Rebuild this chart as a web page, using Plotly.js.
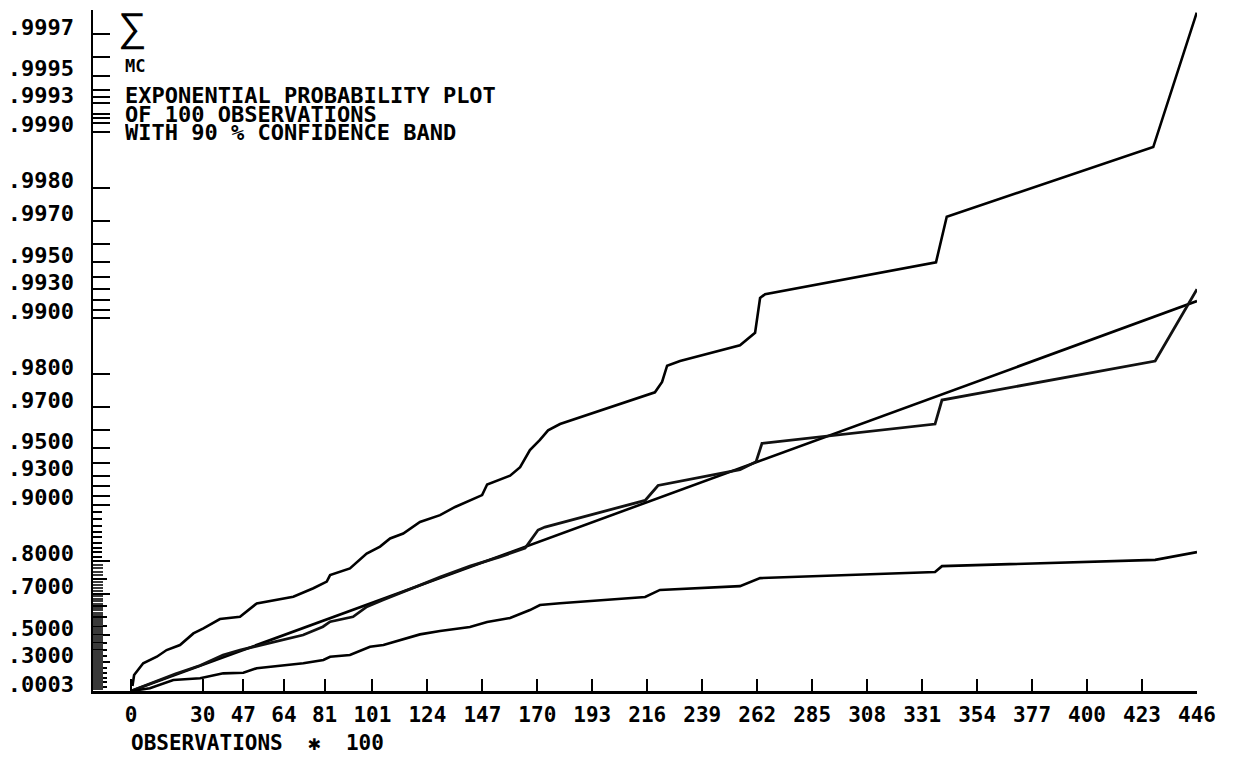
<!DOCTYPE html>
<html>
<head>
<meta charset="utf-8">
<script src="https://cdn.plot.ly/plotly-3.0.1.min.js"></script>
<style>
  html, body { margin: 0; padding: 0; background: #ffffff; }
  #chart { width: 1239px; height: 758px; }
</style>
</head>
<body>
<div id="chart"></div>
<script>
// ---------- data (x in observations / 100, y as cumulative probability) ----------
const xTickVals = [0, 30, 47, 64, 81, 101, 124, 147, 170, 193, 216, 239, 262, 285, 308, 331, 354, 377, 400, 423, 446];
const xTickText = ['0', '30', '47', '64', '81', '101', '124', '147', '170', '193', '216', '239', '262', '285', '308', '331', '354', '377', '400', '423', '446'];

const yLabelP = [0.0003, 0.3, 0.5, 0.7, 0.8, 0.9, 0.93, 0.95, 0.97, 0.98, 0.99, 0.993, 0.995, 0.997, 0.998, 0.999, 0.9993, 0.9995, 0.9997];
const yLabelText = ['.0003', '.3000', '.5000', '.7000', '.8000', '.9000', '.9300', '.9500', '.9700', '.9800', '.9900', '.9930', '.9950', '.9970', '.9980', '.9990', '.9993', '.9995', '.9997'];
const yPlainTickP = [0.91, 0.92, 0.94, 0.96, 0.991, 0.992, 0.994, 0.996, 0.9991, 0.99915, 0.9992, 0.99935, 0.9994, 0.9996];
const yMidTickP = [0.05, 0.1, 0.15, 0.2, 0.25, 0.35, 0.4, 0.45, 0.55, 0.6, 0.65, 0.75];
const yShortTickP = [0.81, 0.82, 0.83, 0.84, 0.85, 0.86, 0.87, 0.88, 0.89];

const upperX = [0.6, 1.3, 5.1, 10.8, 14.9, 20.5, 26.1, 30.3, 37.2, 45.6, 52.6, 61.0, 67.9, 76.3, 81.9, 83.3, 91.6, 98.6, 104.2, 108.4, 113.9, 120.9, 129.3, 135.6, 141.8, 146.9, 149.0, 158.6, 162.8, 166.9, 171.1, 174.5, 179.5, 219.2, 222.2, 224.3, 229.7, 254.8, 261.1, 263.2, 265.3, 336.8, 341.3, 427.7, 445.9];
const upperP = [0.060, 0.179, 0.290, 0.345, 0.397, 0.433, 0.509, 0.539, 0.589, 0.600, 0.661, 0.675, 0.688, 0.719, 0.741, 0.761, 0.780, 0.817, 0.832, 0.848, 0.857, 0.876, 0.886, 0.897, 0.905, 0.911, 0.922, 0.930, 0.937, 0.949, 0.955, 0.960, 0.963, 0.975, 0.978, 0.982, 0.983, 0.986, 0.988, 0.9922, 0.99256, 0.99498, 0.99714, 0.99879, 0.99977];

const dataX = [0, 7.9, 18.4, 28.9, 38.5, 45.6, 52.7, 61.1, 72.0, 80.3, 83.3, 92.9, 98.7, 105.4, 120.9, 129.3, 141.8, 149.0, 154.4, 164.9, 167.8, 170.3, 173.2, 215.1, 220.5, 254.8, 261.5, 264.0, 336.4, 339.3, 428.5, 446];
const dataP = [0, 0.089, 0.189, 0.270, 0.359, 0.397, 0.426, 0.456, 0.499, 0.548, 0.575, 0.600, 0.647, 0.675, 0.730, 0.755, 0.786, 0.799, 0.809, 0.829, 0.849, 0.863, 0.868, 0.905, 0.921, 0.935, 0.941, 0.953, 0.963, 0.9725, 0.983, 0.993];

const lowerX = [0, 7.9, 17.7, 28.9, 38.6, 47.0, 52.6, 66.5, 72.1, 80.5, 83.3, 91.6, 100.0, 105.6, 115.4, 120.9, 129.3, 141.8, 149.0, 158.6, 166.9, 171.1, 179.5, 215.1, 221.3, 254.8, 263.2, 336.4, 339.3, 428.5, 446];
const lowerP = [0, 0.033, 0.127, 0.145, 0.196, 0.202, 0.245, 0.275, 0.290, 0.318, 0.345, 0.359, 0.421, 0.433, 0.478, 0.503, 0.523, 0.546, 0.573, 0.594, 0.632, 0.654, 0.662, 0.687, 0.713, 0.726, 0.752, 0.770, 0.786, 0.802, 0.820];

const fitX = [0, 446];
const fitP = [0, 0.9919];

// ---------- exponential probability scale: plotted value = -ln(1 - p) ----------
const expScore = p => -Math.log(1 - p);
const tr = arr => arr.map(expScore);

const fineTickP = [];
for (let k = 1; k <= 79; k++) { if (k % 5 !== 0) fineTickP.push(k / 100); }

const FONT = '"DejaVu Sans Mono", "Liberation Mono", monospace';
const lineStyle = { color: '#000000', width: 2.6 };

const traces = [
  { x: upperX, y: tr(upperP), mode: 'lines', line: lineStyle, hoverinfo: 'skip', name: 'upper' },
  { x: fitX, y: tr(fitP), mode: 'lines', line: lineStyle, hoverinfo: 'skip', name: 'fit' },
  { x: dataX, y: tr(dataP), mode: 'lines', line: { color: '#111111', width: 2.8 }, hoverinfo: 'skip', name: 'data' },
  { x: lowerX, y: tr(lowerP), mode: 'lines', line: lineStyle, hoverinfo: 'skip', name: 'lower' },
  { x: [0], y: [0], yaxis: 'y2', mode: 'markers', marker: { opacity: 0 }, hoverinfo: 'skip', name: 'ticks' }
];

const yRange = [0, 8.41];
const txt = (size) => ({ family: FONT, size: size, color: '#000000', weight: 'bold' });

const titleLine = (text, y) => ({
  xref: 'paper', yref: 'paper', x: 0.028, y: y, xanchor: 'left', yanchor: 'middle',
  text: text, showarrow: false, height: 17, borderpad: 0, font: txt(22)
});

const layout = {
  width: 1239,
  height: 758,
  margin: { l: 93, r: 42, t: 10, b: 67, pad: 0 },
  paper_bgcolor: '#ffffff',
  plot_bgcolor: '#ffffff',
  showlegend: false,
  font: txt(21),
  xaxis: {
    range: [-15.9, 446],
    showgrid: false,
    zeroline: false,
    showline: true,
    linecolor: '#000000',
    linewidth: 2.5,
    ticks: 'inside',
    ticklen: 12,
    tickwidth: 2,
    tickcolor: '#000000',
    tickmode: 'array',
    tickvals: xTickVals,
    ticktext: xTickText,
    ticklabelstandoff: 3,
    tickfont: txt(21)
  },
  yaxis: {
    range: yRange,
    showgrid: false,
    zeroline: false,
    showline: true,
    linecolor: '#000000',
    linewidth: 2.5,
    ticks: 'inside',
    ticklen: 17,
    tickwidth: 2,
    tickcolor: '#000000',
    tickmode: 'array',
    tickvals: tr(yLabelP).concat(tr(yPlainTickP)),
    ticktext: yLabelText.concat(yPlainTickP.map(() => '')),
    ticklabelstandoff: 12,
    ticklabelshift: -7,
    tickfont: txt(22),
    minor: {
      tickmode: 'array',
      tickvals: tr(yMidTickP),
      ticks: 'inside',
      ticklen: 14,
      tickwidth: 2,
      tickcolor: '#000000',
      showgrid: false
    }
  },
  yaxis2: {
    range: yRange,
    overlaying: 'y',
    anchor: 'x',
    side: 'left',
    showgrid: false,
    zeroline: false,
    showline: false,
    showticklabels: false,
    ticks: 'inside',
    ticklen: 10,
    tickwidth: 2,
    tickcolor: '#3a3a3a',
    tickmode: 'array',
    tickvals: tr(fineTickP),
    minor: {
      tickmode: 'array',
      tickvals: tr(yShortTickP),
      ticks: 'inside',
      ticklen: 9,
      tickwidth: 2,
      tickcolor: '#000000',
      showgrid: false
    }
  },
  annotations: [
    { xref: 'paper', yref: 'paper', x: 0.0362, y: 0.975, xanchor: 'center', yanchor: 'middle',
      text: '∑', showarrow: false, font: { family: '"DejaVu Sans", sans-serif', size: 40, color: '#000000', weight: 200 } },
    { xref: 'paper', yref: 'paper', x: 0.028, y: 0.9178, xanchor: 'left', yanchor: 'middle',
      text: 'MC', showarrow: false, height: 14, borderpad: 0, font: txt(17) },
    titleLine('EXPONENTIAL PROBABILITY PLOT', 0.8744),
    titleLine('OF 100 OBSERVATIONS', 0.8465),
    titleLine('WITH 90 % CONFIDENCE BAND', 0.8201),
    { xref: 'paper', yref: 'paper', x: 0.0325, y: -0.0764, xanchor: 'left', yanchor: 'middle',
      text: 'OBSERVATIONS\u00a0\u00a0\u2731\u00a0\u00a0100', showarrow: false, font: txt(21) }
  ]
};

Plotly.newPlot('chart', traces, layout, { displayModeBar: false, staticPlot: true });
</script>
</body>
</html>
